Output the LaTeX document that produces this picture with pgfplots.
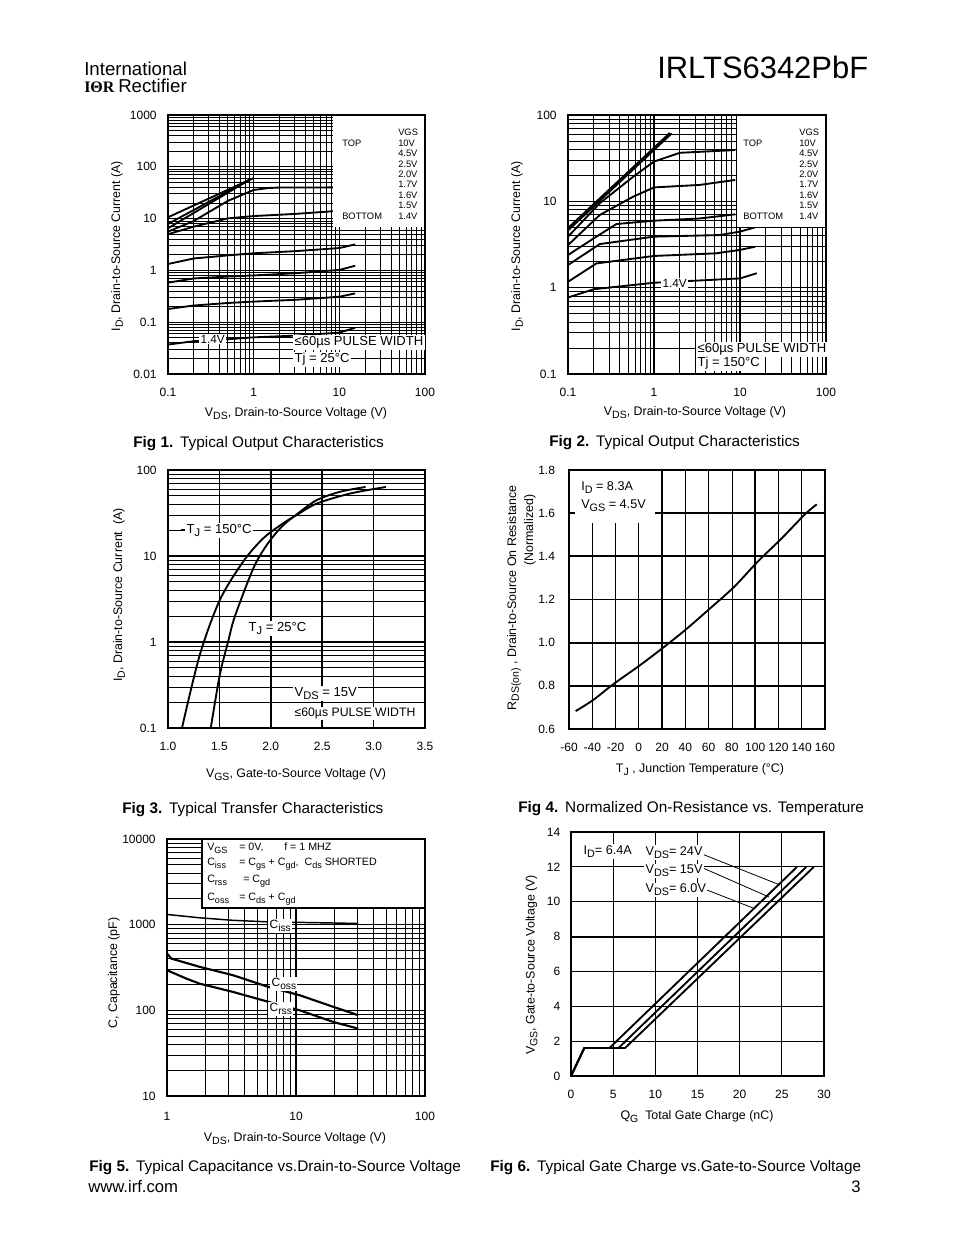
\documentclass[border=0pt]{standalone}
\usepackage{fontspec}
\setmainfont{Liberation Sans}
\newfontfamily\logofont{Liberation Serif}
\usepackage{pgfplots}
\pgfplotsset{compat=1.18}
\newcommand\fs[1]{\fontsize{#1}{#1}\selectfont}
\newcommand\sbs[1]{\raisebox{-0.45ex}{\scalebox{0.85}{#1}}}

\pgfplotsset{
  ds/.style={
    scale only axis, anchor=south west,
    axis line style={line width=1.5pt},
    major tick length=0pt, minor tick length=0pt,
    tick label style={font=\fs{9}},
    xticklabel style={yshift=-7pt},
    yticklabel style={xshift=-5pt},
    major grid style={line width=1pt, black},
    minor grid style={line width=0.6pt, black},
    /pgf/number format/assume math mode=true,
  },
  crv/.style={black, line width=1.4pt, mark=none},
}

\begin{document}
\begin{tikzpicture}
\begin{scope}[x=0.75pt,y=-0.75pt]
\path[use as bounding box,fill=white] (0,0) rectangle (954,1235);
\end{scope}

% ---------- Fig 1
\begin{axis}[ds, at={(126pt,-280.5pt)}, width=192.75pt, height=194.25pt,
  xmode=log, ymode=log, xmin=0.1, xmax=100, ymin=0.01, ymax=1000,
  xtick={0.1,1,10,100}, xticklabels={0.1,1,10,100},
  ytick={0.01,0.1,1,10,100,1000}, yticklabels={0.01,0.1,1,10,100,1000},
  minor xtick={0.2,0.3,0.4,0.5,0.6,0.7,0.8,0.9,2,3,4,5,6,7,8,9,20,30,40,50,60,70,80,90},
  minor ytick={0.02,0.03,0.04,0.05,0.06,0.07,0.08,0.09,0.2,0.3,0.4,0.5,0.6,0.7,0.8,0.9,2,3,4,5,6,7,8,9,20,30,40,50,60,70,80,90,200,300,400,500,600,700,800,900},
  grid=both]
\addplot[crv] coordinates {(0.1,10.6) (0.98,60)};
\addplot[crv] coordinates {(0.1,7.9) (0.93,58)};
\addplot[crv] coordinates {(0.1,6.5) (0.89,56)};
\addplot[crv] coordinates {(0.1,5.6) (0.2,9) (0.5,22) (1,35.7) (1.5,39) (2,39.8) (8.5,40)};
\addplot[crv] coordinates {(0.1,5.0) (0.2,7) (0.5,10.1) (1,11.2) (3,12.3) (8.5,13.9)};
\addplot[crv] coordinates {(0.1,1.33) (0.2,1.7) (0.5,1.95) (1,2.14) (3,2.35) (10,2.7) (15.3,3.18)};
\addplot[crv] coordinates {(0.1,0.58) (0.2,0.7) (0.5,0.76) (1,0.8) (3,0.88) (10,1.02) (15.3,1.23)};
\addplot[crv] coordinates {(0.1,0.18) (0.2,0.21) (0.5,0.235) (1,0.25) (3,0.27) (10,0.31) (15.3,0.36)};
\addplot[crv] coordinates {(0.1,0.037) (0.2,0.043) (0.5,0.047) (1,0.051) (3,0.055) (10,0.063) (15.3,0.078)};
\end{axis}

% ---------- Fig 2
\begin{axis}[ds, at={(426pt,-280.5pt)}, width=193.5pt, height=194.25pt,
  xmode=log, ymode=log, xmin=0.1, xmax=100, ymin=0.1, ymax=100,
  xtick={0.1,1,10,100}, xticklabels={0.1,1,10,100},
  ytick={0.1,1,10,100}, yticklabels={0.1,1,10,100},
  minor xtick={0.2,0.3,0.4,0.5,0.6,0.7,0.8,0.9,2,3,4,5,6,7,8,9,20,30,40,50,60,70,80,90},
  minor ytick={0.2,0.3,0.4,0.5,0.6,0.7,0.8,0.9,2,3,4,5,6,7,8,9,20,30,40,50,60,70,80,90},
  grid=both]
\addplot[crv] coordinates {(0.1,4.9) (1.53,62)};
\addplot[crv] coordinates {(0.1,4.6) (1.6,61)};
\addplot[crv] coordinates {(0.1,3.9) (0.234,9.5) (0.57,19.2) (1,28.9) (2,36.5) (8.8,39.3)};
\addplot[crv] coordinates {(0.1,3.11) (0.234,6.95) (0.57,11.3) (1,14.5) (3.4,15.5) (8.8,17.7)};
\addplot[crv] coordinates {(0.1,2.39) (0.214,3.9) (0.366,5.46) (1,5.97) (3.4,6.33) (8.8,7.07)};
\addplot[crv] coordinates {(0.1,1.83) (0.234,3.2) (1,3.9) (5.8,4.07) (10,4.46) (15,5.0)};
\addplot[crv] coordinates {(0.1,1.17) (0.214,1.91) (1,2.33) (5.3,2.5) (10,2.74) (15,2.98)};
\addplot[crv] coordinates {(0.1,0.77) (0.2,0.96) (1,1.14) (10,1.28) (15.7,1.47)};
\end{axis}

% ---------- Fig 3
\begin{axis}[ds, at={(126pt,-546pt)}, width=192.75pt, height=193.5pt,
  ymode=log, xmin=1, xmax=3.5, ymin=0.1, ymax=100,
  xtick={1,1.5,2,2.5,3,3.5}, xticklabels={1.0,1.5,2.0,2.5,3.0,3.5},
  ytick={0.1,1,10,100}, yticklabels={0.1,1,10,100},
  minor ytick={0.2,0.3,0.4,0.5,0.6,0.7,0.8,0.9,2,3,4,5,6,7,8,9,20,30,40,50,60,70,80,90},
  xmajorgrids, ymajorgrids, yminorgrids,
  major grid style={line width=1.3pt, black}]
\addplot[crv, smooth] coordinates {(1.136,0.1) (1.308,0.70) (1.503,3.06) (1.731,8.6) (1.925,16.0) (2.120,24.0) (2.250,29.9) (2.445,40.6) (2.769,53.2) (3.120,63.5)};
\addplot[crv, smooth] coordinates {(1.416,0.1) (1.503,0.41) (1.584,1.0) (1.649,1.96) (1.828,7.1) (1.958,13.3) (2.104,21.8) (2.25,30.4) (2.445,44.5) (2.672,55.8) (2.922,63.5)};
\end{axis}

% ---------- Fig 4
\begin{axis}[ds, at={(426.75pt,-546.75pt)}, width=192pt, height=194.25pt,
  xmin=-60, xmax=160, ymin=0.6, ymax=1.8,
  xtick={-60,-40,-20,0,20,40,60,80,100,120,140,160},
  xticklabels={-60,-40,-20,0,20,40,60,80,100,120,140,160},
  ytick={0.6,0.8,1.0,1.2,1.4,1.6,1.8}, yticklabels={0.6,0.8,1.0,1.2,1.4,1.6,1.8},
  ymajorgrids, major grid style={line width=1.3pt, black},
  yticklabel style={xshift=-2pt}]
\pgfplotsinvokeforeach{-40,-20,0,40,60,80,120,140}{\draw[line width=0.6pt] (axis cs:#1,0.6) -- (axis cs:#1,1.8);}
\pgfplotsinvokeforeach{20,100}{\draw[line width=1.3pt] (axis cs:#1,0.6) -- (axis cs:#1,1.8);}
\addplot[crv, smooth] coordinates {(-54.3,0.683) (-39.3,0.734) (-22.1,0.807) (1.4,0.897) (23.8,0.989) (41.5,1.066) (61.9,1.162) (82.0,1.259) (102.1,1.375) (122.7,1.483) (142.8,1.595) (152.9,1.641)};
\end{axis}

% ---------- Fig 5
\begin{axis}[ds, at={(125.25pt,-822pt)}, width=193.5pt, height=192.75pt,
  xmode=log, ymode=log, xmin=1, xmax=100, ymin=10, ymax=10000,
  xtick={1,10,100}, xticklabels={1,10,100},
  ytick={10,100,1000,10000}, yticklabels={10,100,1000,10000},
  minor xtick={2,3,4,5,6,7,8,9,20,30,40,50,60,70,80,90},
  minor ytick={20,30,40,50,60,70,80,90,200,300,400,500,600,700,800,900,2000,3000,4000,5000,6000,7000,8000,9000},
  grid=both, xticklabel style={yshift=-1.5pt}]
\addplot[crv, line width=1.1pt] coordinates {(1,1316) (1.79,1203) (3.25,1124) (5.9,1081) (30.4,1033)};
\addplot[crv, line width=1.6pt] coordinates {(1,461) (1.08,402) (1.79,322) (3.25,257) (6.08,188) (10.7,150) (19.4,110) (30.4,87.7)};
\addplot[crv, line width=1.6pt] coordinates {(1,294) (1.41,235) (1.79,205) (3.25,164) (6.08,126) (10.7,100) (19.4,73.3) (30.4,61.2)};
\end{axis}

% ---------- Fig 6
\begin{axis}[ds, at={(428.25pt,-807pt)}, width=189.75pt, height=183pt,
  xmin=0, xmax=30, ymin=0, ymax=14,
  xtick={0,5,10,15,20,25,30}, xticklabels={0,5,10,15,20,25,30},
  ytick={0,2,4,6,8,10,12,14}, yticklabels={0,2,4,6,8,10,12,14},
  xmajorgrids, ymajorgrids, major grid style={line width=0.7pt, black},
  yticklabel style={xshift=0.5pt}]
\draw[line width=1.5pt] (axis cs:0,8) -- (axis cs:30,8);
\addplot[crv] coordinates {(0,0) (1.58,1.61) (6.42,1.61) (28.8,12)};
\addplot[crv] coordinates {(0,0) (1.58,1.61) (5.64,1.61) (27.9,12)};
\addplot[crv] coordinates {(0,0) (1.58,1.61) (4.57,1.61) (26.8,12)};
\end{axis}

% ---------- text and boxes on the page
\begin{scope}[x=0.75pt,y=-0.75pt, every node/.style={inner sep=0pt}]
% header
\node[anchor=base west,font=\fs{14}] at (84,75.7) {International};
\node[anchor=base west,font=\fs{12}\logofont\bfseries] at (84,92.7) {IΘR};
\node[anchor=base west,font=\fs{14}] at (118,92.7) {Rectifier};
\node[anchor=base west,font=\fs{23.2}] at (657,78.3) {IRLTS6342PbF};

% Fig 1 boxes
\fill[white] (333,116) rectangle (424,227);
\draw[line width=1.5pt] (168,115) rectangle (425,374);
\begin{scope}[every node/.append style={anchor=base west,font=\fs{7}}]
\node at (398,135.3) {VGS};
\node at (342,146.3) {TOP};
\node at (342,219.1) {BOTTOM};
\node at (398,146.3) {10V};
\node at (398,156.7) {4.5V};
\node at (398,167.1) {2.5V};
\node at (398,177.5) {2.0V};
\node at (398,187.9) {1.7V};
\node at (398,198.3) {1.6V};
\node at (398,208.7) {1.5V};
\node at (398,219.1) {1.4V};
\end{scope}
\node[anchor=base west,font=\fs{8.8},fill=white,inner sep=1pt] at (199,343) {1.4V};
\node[anchor=base west,font=\fs{9.8},fill=white,inner sep=1pt] at (293,345.7) {≤60µs PULSE WIDTH};
\node[anchor=base west,font=\fs{9.8},fill=white,inner sep=1pt] at (293,362.7) {Tj = 25°C};
\node[anchor=base,font=\fs{9.3}] at (296,416.5) {V\sbs{DS}, Drain-to-Source Voltage (V)};
\node[anchor=base,font=\fs{9.3},rotate=90] at (120,246) {I\sbs{D}, Drain-to-Source Current (A)};
\node[anchor=base west,font=\fs{11.5}] at (133,447.5) {\textbf{Fig 1.}\hspace{0.45em}Typical Output Characteristics};

% Fig 2 boxes
\fill[white] (737,116) rectangle (824.5,227);
\draw[line width=1.5pt] (568,115) rectangle (826,374);
\begin{scope}[every node/.append style={anchor=base west,font=\fs{7}}]
\node at (799,135.3) {VGS};
\node at (743,146.3) {TOP};
\node at (743,219.1) {BOTTOM};
\node at (799,146.3) {10V};
\node at (799,156.7) {4.5V};
\node at (799,167.1) {2.5V};
\node at (799,177.5) {2.0V};
\node at (799,187.9) {1.7V};
\node at (799,198.3) {1.6V};
\node at (799,208.7) {1.5V};
\node at (799,219.1) {1.4V};
\end{scope}
\node[anchor=base west,font=\fs{8.8},fill=white,inner sep=1pt] at (661,287) {1.4V};
\node[anchor=base west,font=\fs{9.8},fill=white,inner sep=1pt] at (696,352.7) {≤60µs PULSE WIDTH};
\node[anchor=base west,font=\fs{9.8},fill=white,inner sep=1pt] at (696,366.7) {Tj = 150°C};
\node[anchor=base,font=\fs{9.3}] at (695,415.5) {V\sbs{DS}, Drain-to-Source Voltage (V)};
\node[anchor=base,font=\fs{9.3},rotate=90] at (520,246) {I\sbs{D}, Drain-to-Source Current (A)};
\node[anchor=base west,font=\fs{11.5}] at (549,446.5) {\textbf{Fig 2.}\hspace{0.45em}Typical Output Characteristics};

% Fig 3
\draw[line width=0.6pt] (181,529) -- (185,529);
\node[anchor=base west,font=\fs{9.8},fill=white,inner sep=1pt] at (185,533.7) {T\sbs{J} = 150°C};
\node[anchor=base west,font=\fs{9.8},fill=white,inner sep=1pt] at (247,631.7) {T\sbs{J} = 25°C};
\node[anchor=base west,font=\fs{9.8},fill=white,inner sep=1pt] at (293,696.7) {V\sbs{DS} = 15V};
\node[anchor=base west,font=\fs{9.2},fill=white,inner sep=1pt] at (293,716.4) {≤60µs PULSE WIDTH};
\node[anchor=base,font=\fs{9.3}] at (296,777.5) {V\sbs{GS}, Gate-to-Source Voltage (V)};
\node[anchor=base,font=\fs{9.3},rotate=90] at (122,595) {I\sbs{D}, Drain-to-Source Current\ \ (A)};
\node[anchor=base west,font=\fs{11.5}] at (122,813.5) {\textbf{Fig 3.}\hspace{0.45em}Typical Transfer Characteristics};

% Fig 4
\fill[white] (575,471) rectangle (655,523);
\draw[line width=1.5pt] (569,470) rectangle (825,729);
\node[anchor=base west,font=\fs{9.5}] at (581,490) {I\sbs{D} = 8.3A};
\node[anchor=base west,font=\fs{9.5}] at (581,508) {V\sbs{GS} = 4.5V};
\node[anchor=base,font=\fs{9.3}] at (700,772.5) {T\sbs{J} , Junction Temperature (°C)};
\node[anchor=base,font=\fs{9.3},rotate=90] at (516,598) {R\sbs{DS(on)} , Drain-to-Source On Resistance};
\node[anchor=base,font=\fs{9.3},rotate=90] at (533,530) {(Normalized)};
\node[anchor=base west,font=\fs{11.5}] at (518,812.5) {\textbf{Fig 4.}\hspace{0.45em}Normalized On-Resistance vs. Temperature};

% Fig 5
\filldraw[fill=white,draw=black,line width=0.8pt] (202,839) rectangle (425,908);
\draw[line width=1.5pt] (167,839) rectangle (425,1096);
\begin{scope}[every node/.append style={anchor=base west,font=\fs{8}}]
\node at (207,850.5) {V\sbs{GS}};
\node at (239,850.5) {= 0V,};
\node at (284,850.5) {f = 1 MHZ};
\node at (207,865.5) {C\sbs{iss}};
\node at (239,865.5) {= C\sbs{gs} + C\sbs{gd}, \ C\sbs{ds} SHORTED};
\node at (207,882.5) {C\sbs{rss}};
\node at (243,882.5) {= C\sbs{gd}};
\node at (207,900.5) {C\sbs{oss}};
\node at (239,900.5) {= C\sbs{ds} + C\sbs{gd}};
\end{scope}
\node[anchor=base west,font=\fs{9},fill=white,inner sep=1pt] at (268,928.5) {C\sbs{iss}};
\node[anchor=base west,font=\fs{9},fill=white,inner sep=1pt] at (270,986.5) {C\sbs{oss}};
\node[anchor=base west,font=\fs{9},fill=white,inner sep=1pt] at (268,1011.5) {C\sbs{rss}};
\node[anchor=base,font=\fs{9.3}] at (295,1141.5) {V\sbs{DS}, Drain-to-Source Voltage (V)};
\node[anchor=base,font=\fs{9.3},rotate=90] at (117,973) {C, Capacitance (pF)};
\node[anchor=base west,font=\fs{11.5}] at (89,1171.5) {\textbf{Fig 5.}\hspace{0.45em}Typical Capacitance vs.Drain-to-Source Voltage};

% Fig 6
\draw[line width=0.6pt] (702,854) -- (780,885);
\draw[line width=0.6pt] (703,868) -- (769,897);
\draw[line width=0.6pt] (707,890) -- (753,908);
\node[anchor=base west,font=\fs{9.5},fill=white,inner sep=1pt] at (582,854.5) {I\sbs{D}= 6.4A};
\node[anchor=base west,font=\fs{9.5},fill=white,inner sep=1pt] at (644,855.5) {V\sbs{DS}= 24V};
\node[anchor=base west,font=\fs{9.5},fill=white,inner sep=1pt] at (644,873.8) {V\sbs{DS}= 15V};
\node[anchor=base west,font=\fs{9.5},fill=white,inner sep=1pt] at (644,892.8) {V\sbs{DS}= 6.0V};
\node[anchor=base,font=\fs{9.3}] at (697,1119.5) {Q\sbs{G}\ \ Total Gate Charge (nC)};
\node[anchor=base,font=\fs{9.3},rotate=90] at (534.5,965) {V\sbs{GS}, Gate-to-Source Voltage (V)};
\node[anchor=base west,font=\fs{11.5}] at (490,1171.5) {\textbf{Fig 6.}\hspace{0.45em}Typical Gate Charge vs.Gate-to-Source Voltage};

% footer
\node[anchor=base west,font=\fs{12.5}] at (88,1192) {www.irf.com};
\node[anchor=base east,font=\fs{12.5}] at (861,1192) {3};
\end{scope}
\end{tikzpicture}
\end{document}
